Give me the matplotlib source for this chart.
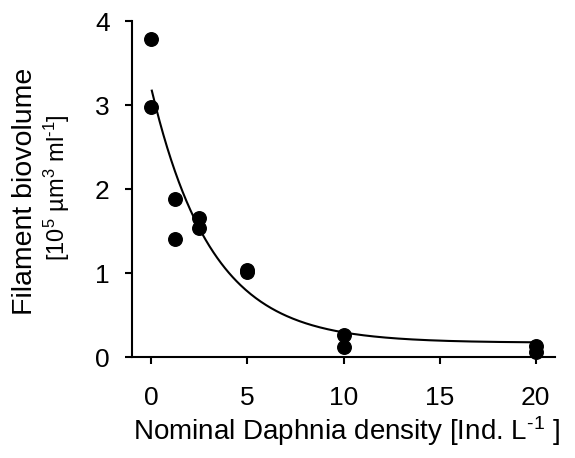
import matplotlib
matplotlib.use('Agg')
import matplotlib.pyplot as plt
import numpy as np

plt.rcParams['font.family'] = ['Liberation Sans', 'DejaVu Sans']
plt.rcParams['mathtext.fontset'] = 'custom'
plt.rcParams['mathtext.rm'] = 'Liberation Sans'
plt.rcParams['mathtext.it'] = 'Liberation Sans'
plt.rcParams['mathtext.default'] = 'regular'

# measured points
density = [0, 0, 1.25, 1.25, 2.5, 2.5, 5, 5, 10, 10, 20, 20]
biovolume = [3.79, 2.98, 1.88, 1.41, 1.65, 1.54, 1.04, 1.01, 0.26, 0.115, 0.135, 0.056]

# exponential fit y = a*exp(-b*x) + c
fit_a = 3.03
fit_b = 0.32
fit_c = 0.17

xticks = [0, 5, 10, 15, 20]
yticks = [0, 1, 2, 3, 4]

fig = plt.figure(figsize=(5.75, 4.58), dpi=100)
ax = fig.add_axes([0.2296, 0.2205, 0.7356, 0.7336])

xs = np.linspace(0.03, 20, 300)
ax.plot(xs, fit_a * np.exp(-fit_b * xs) + fit_c, color='black', linewidth=1.5, zorder=2)
ax.scatter(density, biovolume, s=95, color='black', zorder=3, clip_on=False)

ax.set_xlim(-1, 21)
ax.set_ylim(0, 4)
ax.set_xticks(xticks)
ax.set_yticks(yticks)
ax.spines['top'].set_visible(False)
ax.spines['right'].set_visible(False)
for s in ['left', 'bottom']:
    ax.spines[s].set_linewidth(1.5)
ax.tick_params(axis='both', labelsize=19, width=1.5, length=5)
ax.tick_params(axis='x', pad=16)
ax.tick_params(axis='y', pad=11)

fig.text(0.6026, 0.0393, r'Nominal Daphnia density [Ind. L$^{\text{-}1}$ ]',
         ha='center', va='baseline', fontsize=20)

fig.text(0.0557, 0.583, 'Filament biovolume', rotation=90, rotation_mode='anchor',
         ha='center', va='baseline', fontsize=20.5)
fig.text(0.113, 0.5895, r'[10$^5$ µm$^3$ ml$^{\text{-}1}$]', rotation=90, rotation_mode='anchor',
         ha='center', va='baseline', fontsize=17)

fig.savefig('out.png', dpi=100)
